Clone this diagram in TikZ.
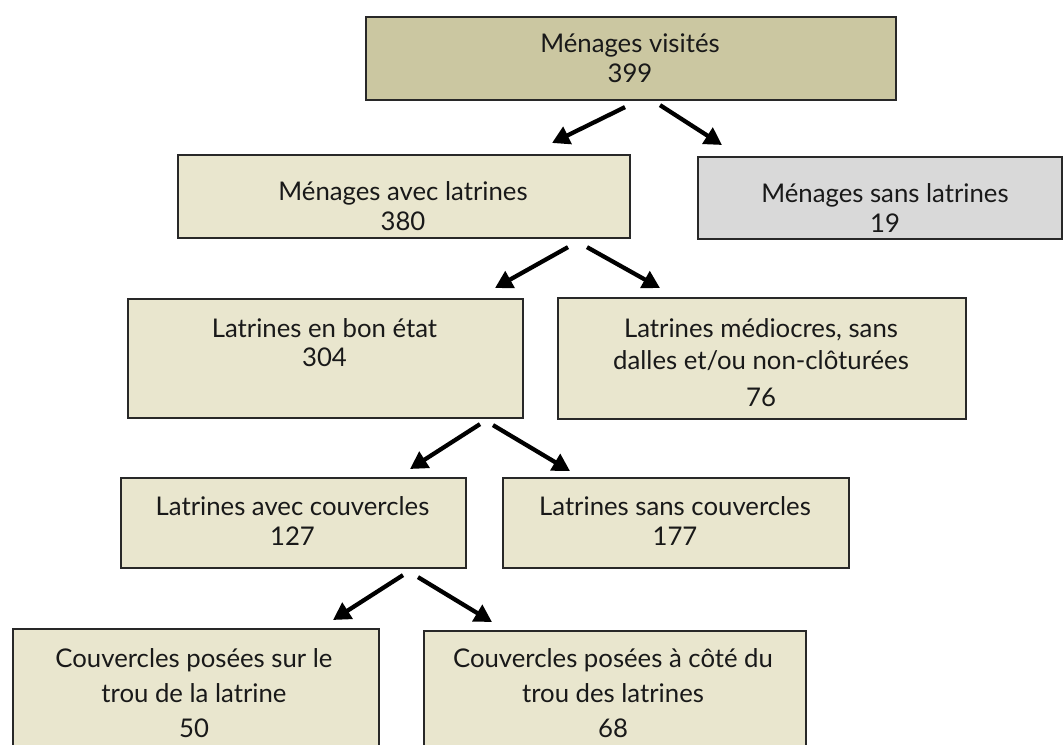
\documentclass[tikz,border=0pt]{standalone}
\usepackage{fontspec}
\setmainfont{Lato}
\usetikzlibrary{arrows.meta}
\definecolor{olivefill}{RGB}{203,199,161}
\definecolor{beigefill}{RGB}{233,230,206}
\definecolor{grayfill}{RGB}{217,217,217}
\definecolor{edgecol}{RGB}{40,40,40}
\definecolor{ink}{RGB}{25,25,25}
\begin{document}
\begin{tikzpicture}[x=0.75pt,y=-0.75pt,
  box/.style={draw=edgecol,line width=1.6pt,anchor=north west,inner sep=0pt,rectangle},
  txt/.style={anchor=base,inner sep=0pt,text=ink,font=\fontsize{19.3}{22}\selectfont},
  arr/.style={line width=3.2pt,-{Triangle[length=13pt,width=14pt]}}]
\useasboundingbox (0,0) rectangle (1063,745);
\clip (0,0) rectangle (1063,745);
% boxes
\node[box,fill=olivefill,minimum width=397.5pt,minimum height=62.25pt] (A) at (365,16) {};
\node[box,fill=beigefill,minimum width=339pt,minimum height=62.25pt] (B) at (177,154) {};
\node[box,fill=grayfill,minimum width=273pt,minimum height=61.5pt] (C) at (697,156) {};
\node[box,fill=beigefill,minimum width=296.25pt,minimum height=89.25pt] (D) at (127,298) {};
\node[box,fill=beigefill,minimum width=306pt,minimum height=90.75pt] (E) at (557,297) {};
\node[box,fill=beigefill,minimum width=258.75pt,minimum height=67.5pt] (F) at (120,477) {};
\node[box,fill=beigefill,minimum width=259.5pt,minimum height=67.5pt] (G) at (502,477) {};
\node[box,fill=beigefill,minimum width=274.5pt,minimum height=105pt] (H) at (12,628) {};
\node[box,fill=beigefill,minimum width=286.5pt,minimum height=105pt] (I) at (423,630) {};
% texts
\node[txt] (A1) at (630,53) {Ménages visités};
\node[txt] (A2) at (630,83) {399};
\node[txt] (B1) at (403,201) {Ménages avec latrines};
\node[txt] (B2) at (403,231) {380};
\node[txt] (C1) at (885,203) {Ménages sans latrines};
\node[txt] (C2) at (885,233) {19};
\node[txt] (D1) at (324.5,337) {Latrines en bon état};
\node[txt] (D2) at (324.5,366) {304};
\node[txt] (E1) at (761,337) {Latrines médiocres, sans};
\node[txt] (E2) at (761,369) {dalles et/ou non-clôturées};
\node[txt] (E3) at (761,406) {76};
\node[txt] (F1) at (292.5,515) {Latrines avec couvercles};
\node[txt] (F2) at (292.5,545) {127};
\node[txt] (G1) at (675,515) {Latrines sans couvercles};
\node[txt] (G2) at (675,545) {177};
\node[txt] (H1) at (194,667) {Couvercles posées sur le};
\node[txt] (H2) at (194,702) {trou de la latrine};
\node[txt] (H3) at (194,737) {50};
\node[txt] (I1) at (613,667) {Couvercles posées à côté du};
\node[txt] (I2) at (613,702) {trou des latrines};
\node[txt] (I3) at (613,737) {68};
% arrows
\draw[arr] ([shift={(260,6)}]A.south west) -- ([shift={(375,-11)}]B.north west);
\draw[arr] ([shift={(295,4)}]A.south west) -- ([shift={(25,-11)}]C.north west);
\draw[arr] ([shift={(391,8)}]B.south west) -- ([shift={(368,-10)}]D.north west);
\draw[arr] ([shift={(410,8)}]B.south west) -- ([shift={(103,-9)}]E.north west);
\draw[arr] ([shift={(353,5)}]D.south west) -- ([shift={(290,-8)}]F.north west);
\draw[arr] ([shift={(366,6)}]D.south west) -- ([shift={(68,-6)}]G.north west);
\draw[arr] ([shift={(283,6)}]F.south west) -- ([shift={(321,-8)}]H.north west);
\draw[arr] ([shift={(298,8)}]F.south west) -- ([shift={(69,-8)}]I.north west);
\end{tikzpicture}
\end{document}
